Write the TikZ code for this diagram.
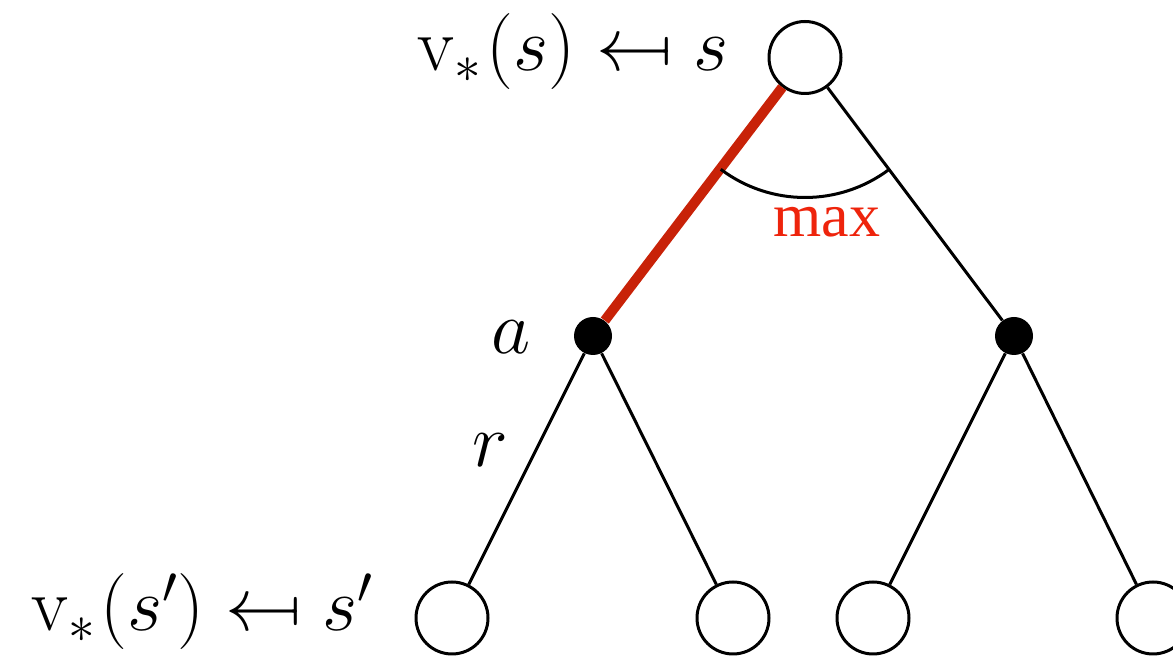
\RequirePackage{fix-cm}
\documentclass[tikz,border=0pt]{standalone}
\usepackage{fontspec}
\newfontfamily\timesf{Liberation Serif}
\definecolor{linered}{RGB}{200,34,8}
\definecolor{maxred}{RGB}{238,36,12}
\newcommand{\mpfrom}{\mathrel{\reflectbox{$\mapsto$}}}
\begin{document}
\begin{tikzpicture}[x=0.5pt,y=0.5pt,
  state/.style={circle,draw,line width=1.5pt,minimum size=36pt,inner sep=0pt,fill=white},
  act/.style={circle,fill=black,minimum size=19pt,inner sep=0pt},
  edge/.style={line width=1.5pt},
  best/.style={line width=5pt,draw=linered},
  lbl/.style={font=\fontsize{38}{46}\selectfont,inner sep=0pt},
  maxl/.style={font=\timesf\fontsize{31}{37}\selectfont,text=maxred,inner sep=0pt}]
\path[use as bounding box, clip] (0,-656) rectangle (1173,0);
% nodes
\node[state] (root) at (805,-57.5) {};
\node[act] (a1) at (593,-336) {};
\node[act] (a2) at (1014,-336) {};
\node[state] (l1) at (452,-618) {};
\node[state] (l2) at (733,-618) {};
\node[state] (l3) at (873,-618) {};
\node[state] (l4) at (1153,-618) {};
% connectors
\draw[best] (root) -- (a1);
\draw[edge] (root) -- (a2);
\draw[edge] (a1) -- (l1);
\draw[edge] (a1) -- (l2);
\draw[edge] (a2) -- (l3);
\draw[edge] (a2) -- (l4);
\draw[edge] (root.center) ++(233:140) arc[start angle=233,end angle=307,radius=140];
% labels
\node[lbl,anchor=base east] (rootlbl) at (729,-71) {$\mathrm{v}_*\mkern1mu(s)\mpfrom s$};
\node[lbl,anchor=base east] (leaflbl) at (374,-631) {$\mathrm{v}_*\mkern1mu(s')\mpfrom s'$};
\node[lbl] (alab) at (511,-337) {$a$};
\node[lbl] (rlab) at (490,-450) {$r$};
\node[maxl,anchor=base] (maxlab) at (827,-237) {max};
\end{tikzpicture}
\end{document}
